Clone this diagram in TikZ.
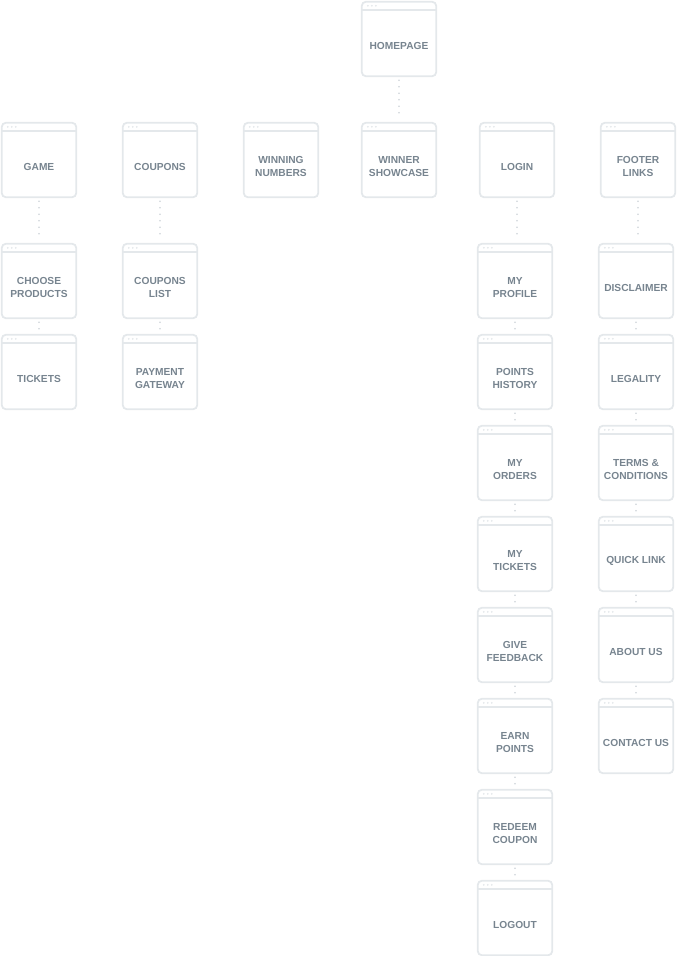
\documentclass[tikz,border=0pt]{standalone}
\usepackage{fontspec}
\setmainfont{Liberation Sans}
\definecolor{framegray}{HTML}{E4E8EB}
\definecolor{pagetext}{HTML}{77848F}
\definecolor{dotgray}{HTML}{CCD2D7}
\tikzset{
  page/.style={minimum width=74pt, minimum height=61pt, inner sep=0pt, align=center,
    text=pagetext, font=\fontsize{10.2}{13}\selectfont\bfseries},
  pageframe/.style={draw=framegray, line width=1.8pt, rounded corners=4pt},
  link/.style={draw=dotgray, line width=1.8pt, line cap=round,
    dash pattern=on 0pt off 6.5pt, shorten <=4pt, shorten >=17pt},
}

\begin{document}
\begin{tikzpicture}[x=1pt, y=-1pt]
  \useasboundingbox (0,0) rectangle (677,956);
  \node[page] (home) at (399,45.5) {HOMEPAGE}; %top

  \node[page] (game) at (39,166.5) {GAME};
  \node[page] (coupons) at (160,166.5) {COUPONS};
  \node[page] (winning) at (281,166.5) {WINNING\\NUMBERS};
  \node[page] (winner) at (399,166.5) {WINNER\\SHOWCASE};
  \node[page] (login) at (517,166.5) {LOGIN};
  \node[page] (footer) at (638,166.5) {FOOTER\\LINKS};

  \node[page] (choose) at (39,287.5) {CHOOSE\\PRODUCTS};
  \node[page] (tickets) at (39,378.5) {TICKETS};
  \node[page] (couplist) at (160,287.5) {COUPONS\\LIST};
  \node[page] (payment) at (160,378.5) {PAYMENT\\GATEWAY};

  \node[page] (profile) at (515,287.5) {MY\\PROFILE};
  \node[page] (points) at (515,378.5) {POINTS\\HISTORY};
  \node[page] (orders) at (515,469.5) {MY\\ORDERS};
  \node[page] (mytickets) at (515,560.5) {MY\\TICKETS};
  \node[page] (feedback) at (515,651.5) {GIVE\\FEEDBACK};
  \node[page] (earn) at (515,742.5) {EARN\\POINTS};
  \node[page] (redeem) at (515,833.5) {REDEEM\\COUPON};
  \node[page] (logout) at (515,924.5) {LOGOUT};

  \node[page] (disclaimer) at (636,287.5) {DISCLAIMER};
  \node[page] (legality) at (636,378.5) {LEGALITY};
  \node[page] (terms) at (636,469.5) {TERMS \&\\CONDITIONS};
  \node[page] (quicklink) at (636,560.5) {QUICK LINK};
  \node[page] (about) at (636,651.5) {ABOUT US};
  \node[page] (contact) at (636,742.5) {CONTACT US};

  % window frames
  \foreach \n in {home,game,coupons,winning,winner,login,footer,choose,tickets,
      couplist,payment,profile,points,orders,mytickets,feedback,earn,redeem,logout,
      disclaimer,legality,terms,quicklink,about,contact}{
    \draw[pageframe] ([yshift=13pt]\n.north west) rectangle (\n.south east);
    \draw[framegray, line width=1.8pt] ([yshift=5pt]\n.north west) -- ([yshift=5pt]\n.north east);
    \foreach \dx in {6,10,14}
      \fill[framegray] ([xshift=\dx pt, yshift=9pt]\n.north west) circle (1pt);
  }

  % dotted links
  \draw[link] (home) -- (winner);
  \draw[link] (game) -- (choose);
  \draw[link] (choose) -- (tickets);
  \draw[link] (coupons) -- (couplist);
  \draw[link] (couplist) -- (payment);
  \draw[link] (login) -- (login |- profile.north);
  \draw[link] (footer) -- (footer |- disclaimer.north);
  \foreach \a/\b in {profile/points,points/orders,orders/mytickets,mytickets/feedback,
      feedback/earn,earn/redeem,redeem/logout,disclaimer/legality,legality/terms,
      terms/quicklink,quicklink/about,about/contact}
    \draw[link] (\a) -- (\b);
\end{tikzpicture}
\end{document}
